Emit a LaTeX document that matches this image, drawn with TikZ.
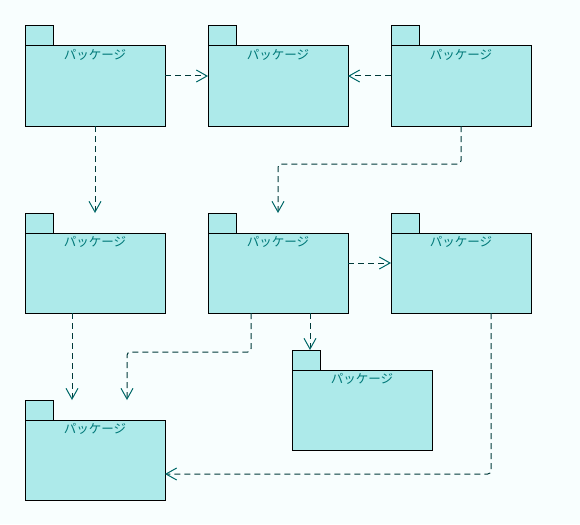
\documentclass[tikz,border=0pt]{standalone}
\usepackage{fontspec}
\newfontfamily\jpfont{Noto Sans CJK JP}
\usetikzlibrary{arrows.meta}
\definecolor{bg}{HTML}{F8FEFE}
\definecolor{pfill}{HTML}{ADEAEA}
\definecolor{ptext}{HTML}{007878}
\definecolor{dep}{HTML}{003A3A}
\definecolor{tipc}{HTML}{006868}
\tikzset{
  pbox/.style={minimum width=105pt, minimum height=75pt, inner sep=0pt, outer sep=0pt, anchor=north west},
  pbody/.style={draw=black, fill=pfill, line width=0.75pt, minimum width=105pt, minimum height=60pt, inner sep=0pt, outer sep=0pt, anchor=north west},
  ptab/.style={draw=black, fill=pfill, line width=0.75pt, minimum width=21pt, minimum height=15pt, inner sep=0pt, outer sep=0pt, anchor=south west},
  plabel/.style={text=ptext, font=\jpfont\fontsize{9.4pt}{11pt}\selectfont, anchor=north, inner sep=0pt},
  depend/.style={draw=dep, line width=0.75pt, dash pattern=on 4.5pt off 3pt, rounded corners=2.5pt,
    -{Straight Barb[length=8pt, width=9pt, line width=0.75pt, color=tipc]}}
}
% #1 name, #2 x, #3 y (top-left of the tab)
\newcommand\drawpkg[3]{%
  \node[pbox] (#1) at (#2,#3) {};
  \node[ptab] (#1tab) at (#2,#3+20) {};
  \node[pbody] (#1body) at (#2,#3+20) {};
  \node[plabel] (#1lbl) at ([yshift=-2.2pt]#1body.north) {パッケージ};
}
\begin{document}
\begin{tikzpicture}[x=0.75pt, y=-0.75pt]
\fill[bg] (0,0) rectangle (580,524);
\useasboundingbox (0,0) rectangle (580,524);
\drawpkg{p1}{25}{26}
\drawpkg{p2}{208}{26}
\drawpkg{p3}{391}{26}
\drawpkg{p4}{25}{213}
\drawpkg{p5}{208}{213}
\drawpkg{p6}{391}{213}
\drawpkg{p7}{292}{350}
\drawpkg{p8}{25}{400}
% dependencies
\draw[depend] (p1.east) -- (p2.west);
\draw[depend] (p3.west) -- (p2.east);
\draw[depend] (p1.south) -- (p4.north);
\draw[depend] (p3.south) -- ++(0,38) -| (p5.north);
\draw[depend] (p5.east) -- (p6.west);
\draw[depend] ([xshift=24pt]p5.south) -- ([xshift=24pt]p5.south |- p7.north);
\draw[depend] ([xshift=-20.25pt]p5.south) -- ++(0,39) -| ([xshift=24pt]p8.north);
\draw[depend] ([xshift=-17.25pt]p4.south) -- ([xshift=-17.25pt]p4.south |- p8.north);
\draw[depend] ([xshift=22.5pt]p6.south) |- ([yshift=-18pt]p8.east);
\end{tikzpicture}
\end{document}
